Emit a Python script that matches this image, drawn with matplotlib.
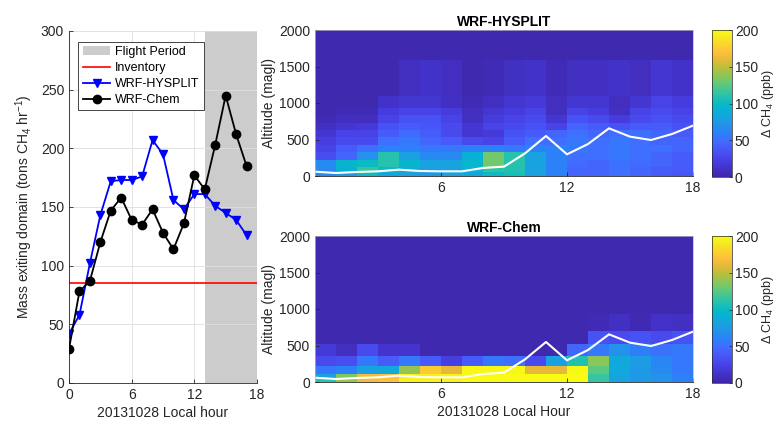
import numpy as np
import matplotlib
matplotlib.use("Agg")
import matplotlib.pyplot as plt
from matplotlib.colors import LinearSegmentedColormap
from matplotlib.patches import Patch
from matplotlib.lines import Line2D

plt.rcParams['font.family'] = ['Liberation Sans', 'DejaVu Sans']
plt.rcParams['mathtext.fontset'] = 'custom'
plt.rcParams['mathtext.rm'] = 'Liberation Sans'
plt.rcParams['mathtext.it'] = 'Liberation Sans:italic'

# ---------------- data ----------------
hours = list(range(18))
hysplit_mass = [42, 58, 102, 143, 172, 173, 173, 176, 207, 195, 156, 148, 161, 161, 151, 145, 139, 126]
chem_mass = [29, 78, 87, 120, 147, 158, 139, 135, 148, 128, 114, 136, 177, 165, 203, 245, 212, 185]
inventory = 85
flight_start = 13
flight_end = 18

hour_edges = list(range(19))
pbl_hours = list(range(19))
pbl_height = [59, 41, 55, 64, 87, 68, 64, 64, 110, 128, 310, 548, 297, 438, 653, 539, 493, 575, 690]

hysplit_alt_edges = [0, 50, 130, 225, 330, 430, 530, 630, 730, 830, 930, 1090, 1590, 2000]
hysplit_dch4 = [
    [65, 75, 100, 85, 80, 75, 80, 85, 100, 105, 80, 60, 45, 45, 50, 45, 40, 38],
    [65, 90, 115, 100, 90, 80, 80, 95, 112, 108, 80, 60, 45, 45, 50, 45, 42, 40],
    [65, 95, 100, 110, 95, 80, 80, 95, 132, 110, 82, 60, 48, 45, 52, 48, 45, 40],
    [32, 45, 70, 110, 80, 65, 65, 90, 132, 110, 80, 60, 50, 50, 55, 50, 45, 40],
    [25, 40, 50, 60, 60, 55, 55, 60, 60, 55, 60, 60, 55, 50, 55, 50, 50, 45],
    [22, 30, 30, 50, 55, 45, 40, 30, 25, 40, 50, 50, 55, 50, 55, 50, 45, 45],
    [15, 25, 25, 40, 48, 42, 30, 15, 18, 35, 40, 45, 50, 45, 50, 50, 45, 40],
    [10, 15, 18, 35, 40, 38, 30, 15, 25, 30, 35, 25, 45, 40, 35, 40, 40, 35],
    [5, 8, 8, 25, 35, 35, 25, 10, 20, 25, 30, 15, 35, 30, 20, 30, 35, 30],
    [3, 5, 5, 20, 25, 25, 20, 8, 15, 20, 25, 8, 25, 20, 10, 25, 30, 25],
    [3, 3, 3, 12, 15, 15, 10, 5, 8, 15, 18, 8, 15, 15, 8, 15, 25, 20],
    [3, 3, 3, 3, 8, 12, 8, 3, 5, 10, 12, 5, 10, 10, 12, 8, 15, 12],
    [3, 3, 3, 3, 3, 3, 3, 3, 3, 3, 3, 3, 3, 3, 3, 3, 3, 3],
]

chem_alt_edges = [0, 55, 115, 215, 350, 520, 700, 930, 2000]
chem_dch4 = [
    [110, 140, 165, 170, 195, 195, 195, 200, 200, 200, 200, 200, 200, 115, 82, 75, 70, 60],
    [80, 135, 165, 170, 195, 195, 195, 200, 200, 200, 200, 200, 200, 115, 82, 75, 70, 60],
    [55, 60, 80, 85, 140, 175, 160, 198, 198, 198, 160, 160, 198, 125, 85, 75, 65, 55],
    [30, 32, 55, 40, 55, 40, 22, 40, 55, 50, 30, 80, 108, 138, 85, 78, 62, 55],
    [18, 8, 30, 14, 14, 3, 3, 3, 3, 3, 3, 3, 45, 55, 70, 58, 52, 55],
    [3, 3, 3, 3, 3, 3, 3, 3, 3, 3, 3, 3, 3, 35, 30, 35, 30, 35],
    [3, 3, 3, 3, 3, 3, 3, 3, 3, 3, 3, 3, 3, 5, 10, 4, 12, 10],
    [3, 3, 3, 3, 3, 3, 3, 3, 3, 3, 3, 3, 3, 3, 3, 3, 3, 3],
]

# ---------------- parula-like colormap ----------------
parula_anchors = [
    (0.00, (0.2422, 0.1504, 0.6603)),
    (0.05, (0.2611, 0.1893, 0.7719)),
    (0.10, (0.2752, 0.2330, 0.8692)),
    (0.15, (0.2810, 0.2930, 0.9352)),
    (0.20, (0.2770, 0.3580, 0.9790)),
    (0.25, (0.2450, 0.4350, 0.9990)),
    (0.30, (0.1700, 0.5100, 0.9700)),
    (0.35, (0.1400, 0.5700, 0.9200)),
    (0.40, (0.1000, 0.6300, 0.8800)),
    (0.45, (0.0300, 0.6900, 0.8400)),
    (0.50, (0.0400, 0.7300, 0.7700)),
    (0.55, (0.1500, 0.7600, 0.6800)),
    (0.60, (0.2700, 0.7800, 0.5700)),
    (0.65, (0.4200, 0.7900, 0.4400)),
    (0.70, (0.5800, 0.7700, 0.3200)),
    (0.75, (0.7500, 0.7400, 0.2300)),
    (0.80, (0.9000, 0.7300, 0.2200)),
    (0.85, (0.9960, 0.7500, 0.2300)),
    (0.90, (0.9800, 0.8300, 0.1700)),
    (0.95, (0.9600, 0.9100, 0.1400)),
    (1.00, (0.9769, 0.9839, 0.0805)),
]
parula = LinearSegmentedColormap.from_list("parula", parula_anchors, N=256)

AXC = '#262626'
FS = 9

fig = plt.figure(figsize=(7.82, 4.24), dpi=100)

# ---------------- left panel ----------------
W, H = 782.0, 424.0
def rect(x0, y0, x1, y1):
    return [x0 / W, 1 - y1 / H, (x1 - x0) / W, (y1 - y0) / H]

ax = fig.add_axes(rect(69, 31, 257, 383))
ax.axvspan(flight_start, flight_end, color='#cccccc', lw=0, zorder=0)
ax.axhline(inventory, color='#ff0000', lw=1.2, zorder=2)
ax.plot(hours, hysplit_mass, color='#0000ff', marker='v', ms=6, lw=1.3, zorder=3)
ax.plot(hours, chem_mass, color='black', marker='o', ms=6, lw=1.3, zorder=4)
ax.set_xlim(0, 18)
ax.set_ylim(0, 300)
ax.set_xticks([0, 6, 12, 18])
ax.set_yticks(range(0, 301, 50))
ax.grid(True, color='#dedede', lw=0.6, zorder=1)
ax.set_axisbelow(True)
for s in ['top', 'right']:
    ax.spines[s].set_visible(False)
for s in ['left', 'bottom']:
    ax.spines[s].set_color(AXC)
    ax.spines[s].set_linewidth(0.6)
ax.tick_params(direction='in', colors=AXC, labelsize=FS + 1, length=3, width=0.6)
ax.set_xlabel('20131028 Local hour', fontsize=FS + 1, color=AXC, labelpad=3)
ax.set_ylabel('Mass exiting domain (tons CH$_4$ hr$^{-1}$)', fontsize=FS + 1, color=AXC, labelpad=4)
handles = [Patch(facecolor='#cccccc', edgecolor='none'),
           Line2D([], [], color='#ff0000', lw=1.2),
           Line2D([], [], color='#0000ff', marker='v', ms=6, lw=1.3),
           Line2D([], [], color='black', marker='o', ms=6, lw=1.3)]
leg = ax.legend(handles, ['Flight Period', 'Inventory', 'WRF-HYSPLIT', 'WRF-Chem'],
                loc='upper left', bbox_to_anchor=(0.05, 0.97), fontsize=FS, frameon=True,
                fancybox=False, framealpha=1, edgecolor=AXC, borderpad=0.35,
                handlelength=2.2, handletextpad=0.4, labelspacing=0.32, borderaxespad=0)
leg.get_frame().set_linewidth(0.6)

# ---------------- heatmaps ----------------
def heat(axr, caxr, edges_y, vals, title, show_xlabel):
    a = fig.add_axes(rect(*axr))
    m = a.pcolormesh(hour_edges, edges_y, np.array(vals), cmap=parula, vmin=0, vmax=200,
                     shading='flat', antialiased=False, edgecolors='none', linewidth=0)
    a.plot(pbl_hours, pbl_height, color='white', lw=1.5)
    a.set_xlim(0, 18)
    a.set_ylim(0, 2000)
    a.set_xticks([6, 12, 18])
    a.set_yticks(range(0, 2001, 500))
    a.tick_params(direction='in', colors=AXC, labelsize=FS + 1, length=3, width=0.6)
    for s in ['top', 'right', 'left']:
        a.spines[s].set_color('#b8b8c8')
        a.spines[s].set_linewidth(0.5)
    a.spines['bottom'].set_color(AXC)
    a.spines['bottom'].set_linewidth(0.6)
    a.set_ylabel('Altitude (magl)', fontsize=FS + 1, color=AXC, labelpad=2)
    a.set_title(title, fontsize=FS + 1, fontweight='bold', color='black', pad=3)
    if show_xlabel:
        a.set_xlabel('20131028 Local Hour', fontsize=FS + 1, color=AXC, labelpad=3)
    ca = fig.add_axes(rect(*caxr))
    cb = fig.colorbar(m, cax=ca, ticks=range(0, 201, 50))
    cb.outline.set_linewidth(0.5)
    cb.outline.set_edgecolor(AXC)
    ca.tick_params(direction='in', colors=AXC, labelsize=FS + 1, length=2.5, width=0.5, pad=2)
    cb.set_label('$\\Delta$ CH$_4$ (ppb)', fontsize=FS, color=AXC, labelpad=1)
    return a

heat((315, 30, 693, 176), (712, 30, 732, 177), hysplit_alt_edges, hysplit_dch4, 'WRF-HYSPLIT', False)
heat((315, 236, 693, 382), (712, 236, 732, 383), chem_alt_edges, chem_dch4, 'WRF-Chem', True)

fig.savefig('out.png', dpi=100)
